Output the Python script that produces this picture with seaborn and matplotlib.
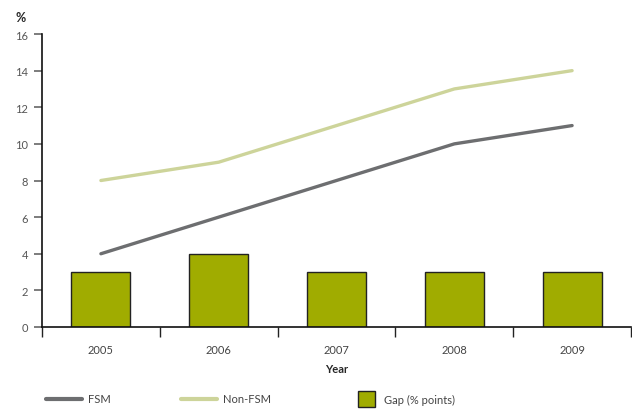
import numpy as np
import pandas as pd
import matplotlib
matplotlib.use("Agg")
import matplotlib.pyplot as plt
import seaborn as sns
from matplotlib.lines import Line2D
from matplotlib.patches import Patch

years = ["2005", "2006", "2007", "2008", "2009"]
fsm = [4, 6, 8, 10, 11]
non_fsm = [8, 9, 11, 13, 14]
gap = [3, 4, 3, 3, 3]
y_ticks = [0, 2, 4, 6, 8, 10, 12, 14, 16]

sns.set_style("white")
plt.rcParams["font.family"] = ["Lato", "DejaVu Sans"]

fig = plt.figure(figsize=(6.32, 4.10), dpi=100)
ax = fig.add_axes([42/632, 82/410, (631-42)/632, (328-35)/410])

df = pd.DataFrame({"Year": years, "Gap": gap})
sns.barplot(data=df, x="Year", y="Gap", ax=ax, color="#A0AC00", saturation=1,
            width=0.5, edgecolor="#222222", linewidth=1.0)
pos = np.arange(len(years))
sns.lineplot(x=pos, y=non_fsm, ax=ax, color="#CDD49A", linewidth=2.4)
sns.lineplot(x=pos, y=fsm, ax=ax, color="#6D6E70", linewidth=2.4)

ax.set_xlim(-0.5, 4.5)
ax.set_ylim(0, 16)
ax.set_yticks(y_ticks)
ax.set_yticklabels([str(t) for t in y_ticks], color="#555555", fontsize=8)
ax.tick_params(axis="y", length=6, width=1.2, color="#666666", pad=4, direction="out", left=True)
ax.set_xticks(np.arange(-0.5, 5, 1))
ax.set_xticklabels([])
ax.set_xticks(pos, minor=True)
ax.set_xticklabels(years, minor=True, color="#444444", fontsize=8)
ax.tick_params(axis="x", which="major", length=7, width=1, color="#222222", direction="out", bottom=True)
ax.tick_params(axis="x", which="minor", length=0, pad=12)
for s in ["top", "right"]:
    ax.spines[s].set_visible(False)
for s in ["left", "bottom"]:
    ax.spines[s].set_color("#111111")
    ax.spines[s].set_linewidth(1.2)
ax.set_xlabel("Year", fontsize=8, fontweight="bold", labelpad=6)
ax.set_ylabel("")
fig.text(15/632, 1 - 18/410, "%", fontsize=9, fontweight="bold", va="center", ha="left")

h1 = [Line2D([], [], color="#6D6E70", linewidth=3)]
h2 = [Line2D([], [], color="#CDD49A", linewidth=3)]
h3 = [Patch(facecolor="#A0AC00", edgecolor="#222222", linewidth=1)]
kw = dict(frameon=False, fontsize=8, handlelength=3.2, handletextpad=0.6, loc="center left", labelcolor="#444444")
fig.legend(h1, ["FSM"], bbox_to_anchor=(36/632, 1 - 400/410), **kw)
fig.legend(h2, ["Non-FSM"], bbox_to_anchor=(171/632, 1 - 400/410), **kw)
fig.legend(h3, ["Gap (% points)"], bbox_to_anchor=(348/632, 1 - 400/410), frameon=False, fontsize=8,
           handlelength=1.5, handleheight=1.8, handletextpad=0.8, loc="center left", labelcolor="#444444")

fig.savefig("out.png", dpi=100)
